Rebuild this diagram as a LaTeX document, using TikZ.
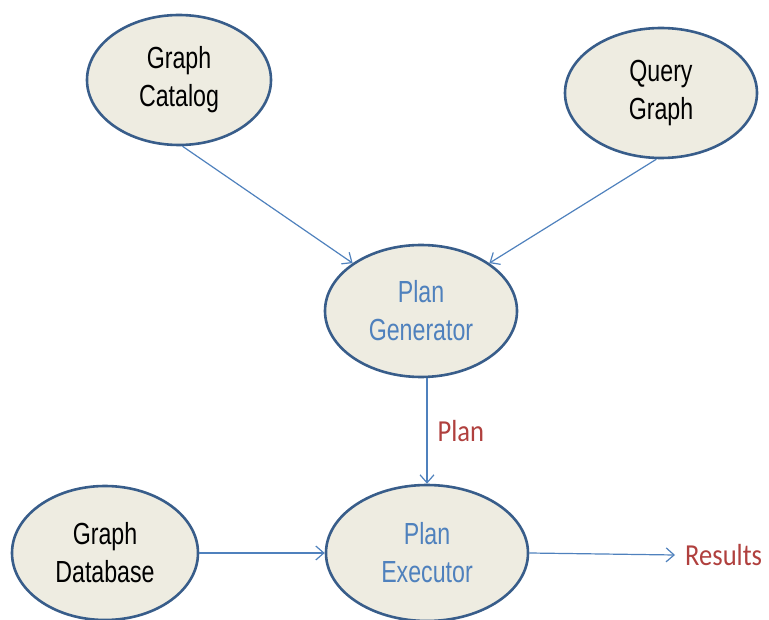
\documentclass[tikz,border=0pt]{standalone}
\usepackage{fontspec}
\setmainfont{Liberation Sans}
\newfontfamily\narrowfont[FakeStretch=0.76]{Liberation Sans}
\newfontfamily\labelfont[FakeStretch=0.87]{Carlito}
\usetikzlibrary{shapes.geometric,arrows.meta}
\definecolor{boxfill}{RGB}{238,236,225}
\definecolor{boxline}{RGB}{56,93,138}
\definecolor{flowline}{RGB}{79,129,189}
\definecolor{labelred}{RGB}{176,64,62}

\begin{document}
\begin{tikzpicture}[x=1pt,y=-1pt,
  stage/.style={ellipse, draw=boxline, line width=2.6pt, fill=boxfill,
    inner sep=0pt, align=center,
    font=\narrowfont\fontsize{30.5}{38}\selectfont},
  active/.style={stage, text=flowline},
  flow/.style={draw=flowline, line width=1.2pt,
    -{Straight Barb[length=8pt,width=14pt,line width=1.2pt]}},
  tag/.style={text=labelred, inner sep=0pt, font=\labelfont\fontsize{30.5}{34}\selectfont}
]
\useasboundingbox (0,0) rectangle (769,620);

% processes and data sources
\node[stage, minimum width=184pt, minimum height=130pt] (catalog) at (179,80) {Graph\\Catalog};
\node[stage, minimum width=192pt, minimum height=130pt] (query) at (661,93) {Query\\Graph};
\node[active, minimum width=192pt, minimum height=132pt] (gen) at (421,311) {Plan\\Generator};
\node[stage, minimum width=186pt, minimum height=134pt] (db) at (105,553) {Graph\\Database};
\node[active, minimum width=202pt, minimum height=136pt] (exec) at (427,553) {Plan\\Executor};

% output label
\node[tag, anchor=west] (results) at (685,555) {Results};

% connectors
\draw[flow] (catalog.-87) -- (gen.145);
\draw[flow] (query.-94) -- (gen.35);
\draw[flow] (gen.south -| exec.north) -- node[tag, right=10pt] (planlbl) {Plan} (exec.north);
\draw[flow] (db.east) -- (exec.west);
\draw[flow] (exec.east) -- ([xshift=-10pt]results.west);
\end{tikzpicture}
\end{document}
